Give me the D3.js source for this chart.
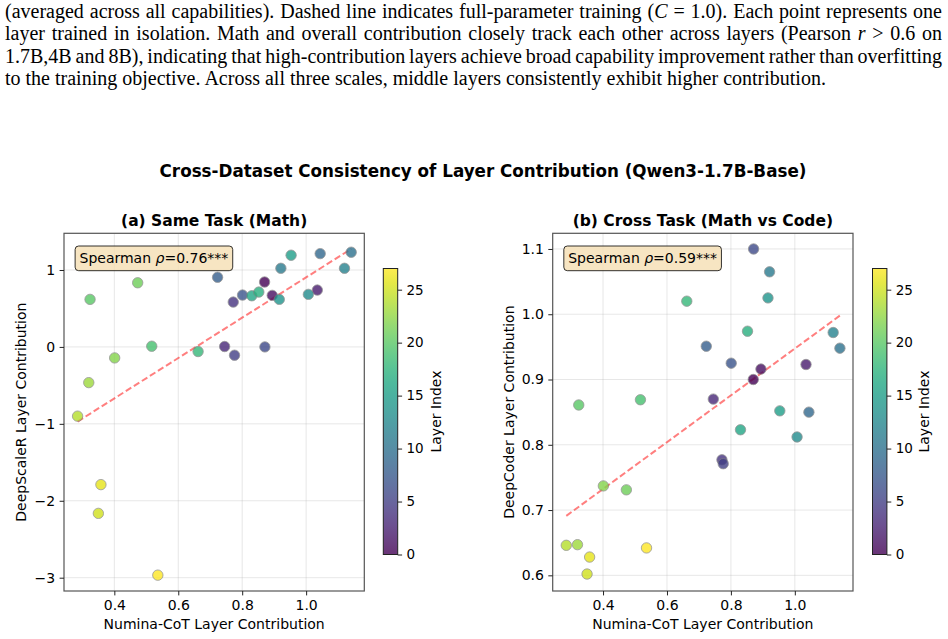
<!DOCTYPE html>
<html>
<head>
<meta charset="utf-8">
<script src="https://cdn.jsdelivr.net/npm/d3@7"></script>
<style>
  html, body { margin: 0; padding: 0; background: #fff; }
  #wrap { position: relative; width: 948px; height: 639px; overflow: hidden; }
  #caption { position: absolute; left: 5px; top: 0px; width: 937px;
    font-family: "Liberation Serif", "Times New Roman", serif; font-size: 20px; line-height: 22.3px; color: #000; }
  #caption div { white-space: nowrap; }
  #caption span.ln { display: inline-block; white-space: nowrap; }
  svg { position: absolute; left: 0; top: 0; }
</style>
</head>
<body>
<div id="wrap">
  <div id="caption">
    <div><span class="ln j">(averaged across all capabilities). Dashed line indicates full-parameter training (<i>C</i> = 1.0). Each point represents one</span></div>
    <div><span class="ln j">layer trained in isolation. Math and overall contribution closely track each other across layers (Pearson <i>r</i> &gt; 0.6 on</span></div>
    <div><span class="ln j">1.7B,4B and 8B), indicating that high-contribution layers achieve broad capability improvement rather than overfitting</span></div>
    <div><span class="ln">to the training objective. Across all three scales, middle layers consistently exhibit higher contribution.</span></div>
  </div>
  <svg id="chart" width="948" height="639"></svg>
</div>
<script>
// ---- data (layer index 0..27) ----
const layers = d3.range(28);
const numinaCoT = [0.870, 0.894, 1.035, 0.745, 0.772, 0.776, 0.871, 0.801, 0.723, 1.044,
                   1.141, 0.921, 1.120, 1.007, 0.916, 0.953, 0.830, 0.852, 0.662, 0.517,
                   0.324, 0.473, 0.401, 0.320, 0.285, 0.350, 0.358, 0.536];
const deepScaleR = [0.844, 0.670, 0.739, 0.005, 0.583, -0.108, 0.000, 0.674, 0.905, 1.213,
                    1.231, 1.022, 1.022, 0.683, 0.618, 1.192, 0.665, 0.713, -0.060, 0.009,
                    0.618, 0.834, -0.143, -0.464, -0.900, -2.164, -1.790, -2.967];
const deepCoder = [0.900, 0.916, 0.923, 0.870, 0.777, 0.771, 1.100, 0.925, 0.951, 0.850,
                   0.948, 1.065, 0.972, 0.812, 1.025, 0.852, 0.823, 0.974, 1.020, 0.869,
                   0.861, 0.731, 0.737, 0.647, 0.646, 0.602, 0.628, 0.642];
const xTicks = [0.4, 0.6, 0.8, 1.0];
const yTicksA = [-3, -2, -1, 0, 1];
const yTicksB = [0.6, 0.7, 0.8, 0.9, 1.0, 1.1];
const cbTicks = [0, 5, 10, 15, 20, 25];
const spearman = ["0.76", "0.59"];
const titles = ["(a) Same Task (Math)", "(b) Cross Task (Math vs Code)"];
const yLabels = ["DeepScaleR Layer Contribution", "DeepCoder Layer Contribution"];
const xLabel = "Numina-CoT Layer Contribution";
const suptitle = "Cross-Dataset Consistency of Layer Contribution (Qwen3-1.7B-Base)";

// justify caption lines to the full text width
document.querySelectorAll("#caption span.j").forEach(el => {
  const natural = el.getBoundingClientRect().width;
  const spaces = (el.textContent.match(/ /g) || []).length;
  el.style.wordSpacing = ((937 - natural) / spaces) + "px";
});

const svg = d3.select("#chart");
const FONT = "DejaVu Sans, Verdana, sans-serif";
const color = d3.scaleSequential(d3.interpolateViridis).domain([0, 27]);

svg.append("text").attr("x", 483).attr("y", 177).attr("text-anchor", "middle")
  .attr("font-family", FONT).attr("font-weight", "bold").attr("font-size", 16.75).text(suptitle);

// gradient for colorbars
const defs = svg.append("defs");
const grad = defs.append("linearGradient").attr("id", "vir").attr("x1", 0).attr("y1", 1).attr("x2", 0).attr("y2", 0);
d3.range(0, 1.0001, 0.05).forEach(t => grad.append("stop").attr("offset", t)
  .attr("stop-color", d3.interpolateViridis(t)).attr("stop-opacity", 0.8));

const panels = [
  { x0: 64, x1: 364.3, yDom: [-3.173, 1.477], yVals: deepScaleR, yTicks: yTicksA, yFmt: d => d3.format("d")(d).replace("-", "\u2212"),
    ylabX: 26, cbX: 383.3, cbLabX: 441 },
  { x0: 552.7, x1: 853, yDom: [0.576, 1.124], yVals: deepCoder, yTicks: yTicksB, yFmt: d3.format(".1f"),
    ylabX: 513.5, cbX: 872.5, cbLabX: 929 }
];
const Y0 = 233.3, Y1 = 591;

panels.forEach((p, pi) => {
  const g = svg.append("g");
  const x = d3.scaleLinear().domain([0.2425, 1.182]).range([p.x0, p.x1]);
  const y = d3.scaleLinear().domain(p.yDom).range([Y1, Y0]);

  // grid
  g.selectAll(".gx").data(xTicks).join("line")
    .attr("x1", d => x(d)).attr("x2", d => x(d)).attr("y1", Y0).attr("y2", Y1)
    .attr("stroke", "#b0b0b0").attr("stroke-opacity", 0.3).attr("stroke-width", 1);
  g.selectAll(".gy").data(p.yTicks).join("line")
    .attr("y1", d => y(d)).attr("y2", d => y(d)).attr("x1", p.x0).attr("x2", p.x1)
    .attr("stroke", "#b0b0b0").attr("stroke-opacity", 0.3).attr("stroke-width", 1);

  // regression line
  const xs = numinaCoT, ys = p.yVals;
  const mx = d3.mean(xs), my = d3.mean(ys);
  const slope = d3.sum(xs.map((v, i) => (v - mx) * (ys[i] - my))) / d3.sum(xs.map(v => (v - mx) ** 2));
  const icpt = my - slope * mx;
  const xe = d3.extent(xs);
  g.append("line").attr("x1", x(xe[0])).attr("y1", y(icpt + slope * xe[0]))
    .attr("x2", x(xe[1])).attr("y2", y(icpt + slope * xe[1]))
    .attr("stroke", "#ff0000").attr("stroke-opacity", 0.5).attr("stroke-width", 2)
    .attr("stroke-dasharray", "6.5,3");

  // points
  g.selectAll("circle").data(layers).join("circle")
    .attr("cx", i => x(numinaCoT[i])).attr("cy", i => y(p.yVals[i])).attr("r", 5.2)
    .attr("fill", i => color(i)).attr("stroke", "#7f7f7f").attr("stroke-width", 0.8)
    .attr("opacity", 0.8);

  // spines
  g.append("rect").attr("x", p.x0).attr("y", Y0).attr("width", p.x1 - p.x0).attr("height", Y1 - Y0)
    .attr("fill", "none").attr("stroke", "#555").attr("stroke-width", 1.2);

  // x axis
  const xa = g.append("g").attr("transform", `translate(0,${Y1})`)
    .call(d3.axisBottom(x).tickValues(xTicks).tickFormat(d3.format(".1f")).tickSize(4.4).tickPadding(4.4));
  xa.select(".domain").remove();
  xa.selectAll("line").attr("stroke", "#222").attr("stroke-width", 1);
  xa.selectAll("text").attr("font-family", FONT).attr("font-size", 14).attr("fill", "#000");

  const ya = g.append("g").attr("transform", `translate(${p.x0},0)`)
    .call(d3.axisLeft(y).tickValues(p.yTicks).tickFormat(p.yFmt).tickSize(4.4).tickPadding(4.4));
  ya.select(".domain").remove();
  ya.selectAll("line").attr("stroke", "#222").attr("stroke-width", 1);
  ya.selectAll("text").attr("font-family", FONT).attr("font-size", 14).attr("fill", "#000");

  // labels
  g.append("text").attr("x", (p.x0 + p.x1) / 2).attr("y", 629).attr("text-anchor", "middle")
    .attr("font-family", FONT).attr("font-size", 14).text(xLabel);
  g.append("text").attr("transform", `translate(${p.ylabX},${(Y0 + Y1) / 2}) rotate(-90)`)
    .attr("text-anchor", "middle").attr("font-family", FONT).attr("font-size", 14).text(yLabels[pi]);
  g.append("text").attr("x", (p.x0 + p.x1) / 2).attr("y", 225.5).attr("text-anchor", "middle")
    .attr("font-family", FONT).attr("font-weight", "bold").attr("font-size", 15.5).text(titles[pi]);

  // annotation box
  const ann = g.append("text").attr("x", p.x0 + 0.05 * (p.x1 - p.x0) + 0.5).attr("y", 263.4)
    .attr("font-family", FONT).attr("font-size", 14);
  ann.append("tspan").text("Spearman ");
  ann.append("tspan").attr("font-style", "italic").text("\u03c1");
  ann.append("tspan").text("=" + spearman[pi] + "***");
  const bb = ann.node().getBBox();
  g.insert("rect", () => ann.node())
    .attr("x", bb.x - 4.4).attr("y", 246).attr("width", bb.width + 8.8).attr("height", 24.7)
    .attr("rx", 3.5).attr("fill", "#f5deb3").attr("fill-opacity", 0.8)
    .attr("stroke", "#000").attr("stroke-opacity", 0.8).attr("stroke-width", 1);

  // colorbar
  const cb = d3.scaleLinear().domain([0, 27]).range([554.5, 268.5]);
  g.append("rect").attr("x", p.cbX).attr("y", 268.5).attr("width", 14.4).attr("height", 286)
    .attr("fill", "url(#vir)").attr("stroke", "#222").attr("stroke-width", 1);
  const ca = g.append("g").attr("transform", `translate(${p.cbX + 14.4},0)`)
    .call(d3.axisRight(cb).tickValues(cbTicks).tickFormat(d3.format("d")).tickSize(4.4).tickPadding(4.4));
  ca.select(".domain").remove();
  ca.selectAll("line").attr("stroke", "#222").attr("stroke-width", 1);
  ca.selectAll("text").attr("font-family", FONT).attr("font-size", 13.5).attr("fill", "#000");
  g.append("text").attr("transform", `translate(${p.cbLabX},411.5) rotate(-90)`)
    .attr("text-anchor", "middle").attr("font-family", FONT).attr("font-size", 14).text("Layer Index");
});
</script>
</body>
</html>
